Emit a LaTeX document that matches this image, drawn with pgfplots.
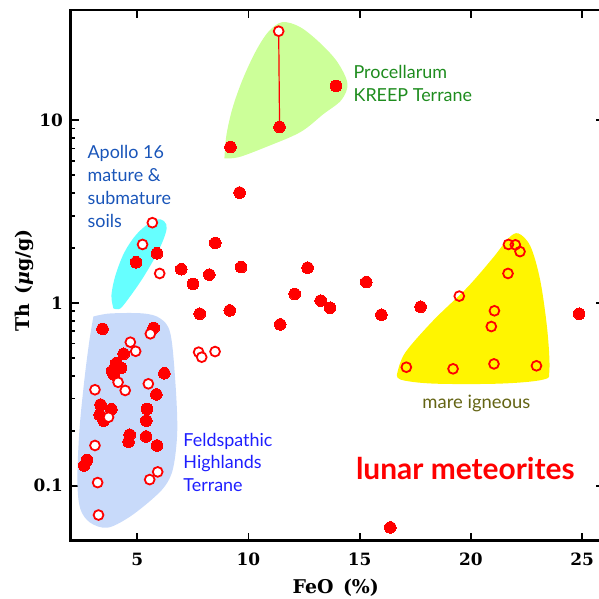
\documentclass[border=0pt]{standalone}
\usepackage{fontspec}
\usepackage{pgfplots}
\pgfplotsset{compat=1.18}
\setmainfont{DejaVu Serif}
\newfontfamily\annfont{Lato}
\definecolor{kreep}{RGB}{204,255,153}
\definecolor{apollo}{RGB}{102,255,255}
\definecolor{fhtblue}{RGB}{200,218,250}
\definecolor{mare}{RGB}{255,245,0}
\definecolor{kreeptxt}{RGB}{30,140,30}
\definecolor{apollotxt}{RGB}{25,85,185}
\definecolor{fhttxt}{RGB}{30,30,255}
\definecolor{maretxt}{RGB}{100,100,20}
\definecolor{ptred}{RGB}{255,0,0}
\begin{document}
\begin{tikzpicture}
\begin{axis}[
  scale only axis, width=533.8bp, height=530.5bp,
  xmin=2, xmax=26, ymode=log, ymin=0.05, ymax=40,
  axis line style={line width=2.6bp},
  tick style={line width=1.8bp, black},
  major tick length=8bp, minor tick length=5bp,
  tick align=inside,
  xtick={5,10,15,20,25},
  ytick={0.1,1,10}, yticklabels={0.1,1,10},
  /pgf/number format/assume math mode=true,
  tick label style={font=\fontsize{17}{20}\selectfont\bfseries},
  xticklabel style={yshift=-9bp},
  yticklabel style={xshift=-4bp},
  xlabel={FeO\enspace(\%)},
  ylabel={Th\enspace({\itshape μ}g/g)},
  label style={font=\fontsize{19}{22}\selectfont\bfseries},
  xlabel style={at={(axis description cs:0.497,-0.0886)}, anchor=center},
  ylabel style={at={(axis description cs:-0.0855,0.49)}, anchor=center},
  clip=true,
]
% regions
\addplot[fill=kreep, draw=none, smooth, tension=0.55] coordinates {
 (8.92,6.19) (9.01,8.28) (9.28,11.6) (9.73,16.6) (10.31,23.6) (10.89,30.4)
 (11.52,34.4) (12.33,32.3) (13.23,26.4) (14.00,20.8) (14.45,15.9) (14.18,12.9)
 (13.37,10.8) (12.33,8.60) (10.76,7.11) (9.55,6.27) (8.92,6.19)};
\addplot[fill=apollo, draw=none, smooth, tension=0.55] coordinates {
 (3.93,0.933) (3.84,1.10) (4.02,1.415) (4.42,1.89) (4.96,2.37) (5.59,2.76)
 (6.04,2.87) (6.31,2.69) (6.26,2.37) (5.90,1.87) (5.27,1.38) (4.69,1.09)
 (4.24,0.933) (3.93,0.933)};
\addplot[fill=fhtblue, draw=none, smooth, tension=0.55] coordinates {
 (3.03,0.843) (3.79,0.876) (5.27,0.876) (6.04,0.822) (6.49,0.681) (6.71,0.376)
 (6.80,0.200) (6.62,0.1255) (6.26,0.100) (5.59,0.0827) (4.60,0.0668) (3.66,0.0589)
 (2.89,0.0627) (2.44,0.0748) (2.31,0.1065) (2.40,0.200) (2.62,0.376) (2.85,0.623)
 (3.03,0.843)};
\addplot[fill=mare, draw=none, smooth, tension=0.55] coordinates {
 (16.70,0.416) (17.05,0.535) (18.31,0.802) (19.84,1.216) (21.01,1.775) (21.69,2.26)
 (22.14,2.40) (22.68,2.04) (23.12,1.328) (23.44,0.707) (23.53,0.427) (23.26,0.381)
 (21.33,0.362) (18.31,0.362) (16.83,0.381) (16.70,0.416)};
% tie line
\addplot[ptred, line width=1.2bp, mark=none] coordinates {(11.36,30.7) (11.40,9.19)};
% filled points
\addplot[ptred, only marks, mark=*, mark size=5.8bp, mark options={fill=ptred, draw=ptred, line width=0pt}] coordinates {
 (3.44,0.722) (5.74,0.731) (4.39,0.527) (4.06,0.468) (4.27,0.441) (3.87,0.423)
 (3.94,0.406) (4.16,0.45) (6.22,0.412) (5.86,0.316) (3.35,0.278) (3.84,0.262)
 (3.31,0.244) (3.49,0.227) (5.44,0.263) (5.41,0.227) (4.66,0.190) (4.61,0.174)
 (5.40,0.186) (5.89,0.166) (2.74,0.138) (2.62,0.129)
 (11.40,9.19) (9.19,7.14) (9.60,4.02) (13.94,15.4) (5.89,1.87) (4.95,1.67)
 (6.98,1.53) (7.51,1.27) (8.24,1.43) (8.51,2.13) (9.67,1.57) (12.08,1.12)
 (12.66,1.56) (15.30,1.30) (13.25,1.03) (13.67,0.941) (15.98,0.862) (17.74,0.953)
 (24.87,0.873) (7.81,0.873) (9.16,0.910) (11.43,0.763) (16.38,0.0591)};
% open points, white inside
\addplot[ptred, only marks, mark=*, mark size=4.9bp, mark options={fill=white, draw=ptred, line width=1.8bp}] coordinates {
 (5.59,0.678) (4.69,0.610) (4.93,0.544) (4.14,0.368) (4.46,0.332) (3.10,0.335)
 (5.50,0.361) (3.71,0.237) (3.10,0.166) (3.22,0.104) (5.92,0.119) (5.56,0.108)
 (3.26,0.0691) (11.36,30.7) (5.68,2.75) (5.24,2.09) (6.01,1.45) (7.76,0.538)
 (7.90,0.505) (8.50,0.542)};
% open points, mare
\addplot[ptred, only marks, mark=o, mark size=4.9bp, mark options={draw=ptred, line width=1.8bp}] coordinates {
 (21.69,2.09) (22.00,2.08) (22.21,1.91) (21.67,1.45) (19.48,1.09) (21.06,0.906)
 (20.92,0.743) (17.10,0.445) (19.20,0.436) (21.04,0.464) (22.95,0.453)};
% labels
\node[anchor=west, inner sep=0pt, align=left, text=kreeptxt, font=\annfont\fontsize{18}{23}\selectfont] at (axis cs:14.72,15.85) {Procellarum\\KREEP Terrane};
\node[anchor=west, inner sep=0pt, align=left, text=apollotxt, font=\annfont\fontsize{18}{23}\selectfont] at (axis cs:2.76,4.32) {Apollo 16\\mature \&\\submature\\soils};
\node[anchor=west, inner sep=0pt, align=left, text=fhttxt, font=\annfont\fontsize{18}{23}\selectfont] at (axis cs:7.07,0.134) {Feldspathic\\Highlands\\Terrane};
\node[anchor=center, text=maretxt, font=\annfont\fontsize{18.5}{23}\selectfont] at (axis cs:20.25,0.281) {mare igneous};
\node[anchor=center, text=ptred, font=\annfont\bfseries\fontsize{30}{34}\selectfont] at (axis cs:19.75,0.124) {lunar meteorites};
\end{axis}
\pgfresetboundingbox
\path[use as bounding box] (current axis.south west) ++(-70.5bp,-58.3bp) rectangle ++(599bp,599bp);
\end{tikzpicture}
\end{document}
